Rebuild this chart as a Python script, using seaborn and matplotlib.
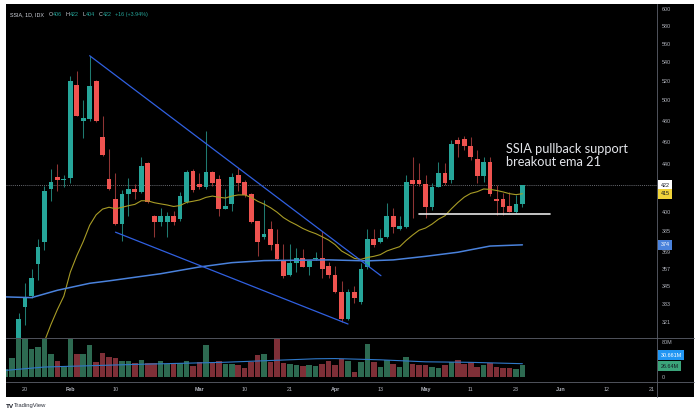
import numpy as np
import pandas as pd
import matplotlib
matplotlib.use("Agg")
import matplotlib.pyplot as plt
import seaborn as sns
from matplotlib.transforms import blended_transform_factory
from matplotlib.ticker import NullLocator
from matplotlib.lines import Line2D
from matplotlib.patches import Rectangle

# ---------------- data ----------------
opens = [283, 291, 305, 331, 338, 360.7, 377, 418.5, 428.6, 426.6,
         428, 515.5, 480, 482, 519.6, 464.3, 427, 410.5, 390.7, 414.3,
         418.8, 416.6, 440.8, 396.7, 392.2, 392.2, 396.7, 394.4, 408.2, 434.3,
         422.9, 420.2, 433, 427, 402.3, 406.7, 430.6, 424.4, 414.6, 392.7,
         380.2, 386.6, 374.9, 362.7, 352.6, 361, 364.6, 358.6, 363.9, 365.1,
         359.1, 352.6, 340.6, 322.7, 340.6, 334.3, 358.6, 378.9, 376.9, 380.2,
         396.7, 386.6, 388.2, 426.3, 426.3, 422.6, 404.3, 420.7, 432.6, 426.3,
         461.8, 462.4, 456.7, 444.3, 430.1, 441.7, 410.5, 410.5, 404.9, 400.1,
         406]
highs = [293, 306, 327, 347, 357, 379, 421, 436, 440, 430.6,
         525, 530, 500, 546.5, 521, 484.5, 454, 432.6, 418, 428,
         423, 446, 441.5, 397.5, 402.8, 400.1, 400.6, 416.6, 435, 435.7,
         432.6, 470, 434.3, 430.4, 418.8, 432.6, 436.4, 426.3, 415, 393,
         410, 392.7, 386.6, 375, 374.9, 372.5, 371.2, 363.5, 369.5, 385,
         362.2, 359.1, 348.6, 342.8, 344.8, 361, 386.6, 386.6, 386.6, 407.2,
         402.8, 396.7, 430.6, 446, 440.8, 430.6, 423.5, 441.7, 440.9, 461.8,
         464.3, 465.3, 465, 452.7, 446.1, 446, 421.7, 415.6, 416.6, 413.5,
         422]
lows = [280, 289, 300, 319, 337, 349, 371, 409, 417, 420.7,
        423.5, 484, 464, 480, 479, 447, 418, 390, 377.4, 397,
        410.5, 415, 407, 380.6, 388.9, 380.6, 390, 393, 407, 416,
        419, 419, 421, 397, 402, 401, 417, 412, 390.9, 366.5,
        379, 370.7, 363.5, 350.7, 352, 354.7, 358, 352.6, 363.5, 350.7,
        350.2, 340, 321, 322, 333.2, 333, 357, 373.1, 376, 380,
        383.6, 386, 387, 395, 421, 395, 401.5, 420, 421.7, 423.5,
        446.7, 452.7, 443.7, 423.5, 425, 413, 397.4, 397.4, 399.8, 399.5,
        404]
closes = [291, 305, 323, 336.6, 350.7, 373, 417, 424.4, 426.3, 427.5,
          520, 484.5, 482.3, 514.7, 480, 448, 418.5, 390.7, 414.6, 418.5,
          416.6, 438.7, 408.2, 392.2, 396.7, 396.7, 392.2, 412.9, 433, 417.9,
          420.2, 433, 423.5, 402.3, 404.9, 428.6, 423.5, 413.5, 392.2, 376.9,
          382.7, 374.4, 364.1, 352.1, 361, 364.6, 358.6, 362.7, 365.1, 356.9,
          352.6, 340.6, 322.7, 340.6, 336.6, 356.9, 378.9, 374.4, 379.5, 396.7,
          388.2, 388.9, 424.4, 422.6, 422.6, 404.3, 420.7, 432.6, 424.1, 458.1,
          458.1, 456.7, 446.1, 430.1, 441.7, 414.6, 408.8, 404.3, 400.1, 406,
          422]
volumes_m = [18, 43, 87, 87, 64, 70, 87, 53, 36, 24,
             87, 52, 54, 74, 35, 55, 45, 43, 36, 36,
             32, 40, 32, 32, 36, 30, 30, 33, 36, 25,
             35, 74, 33, 38, 30, 31, 28, 20, 35, 50,
             52, 35, 88, 32, 30, 28, 25, 28, 25, 30,
             36, 27, 42, 36, 12, 34, 76, 34, 24, 40,
             30, 22, 46, 30, 28, 28, 22, 20, 27, 35,
             40, 30, 34, 24, 28, 33, 22, 20, 20, 18,
             26.64]
ema21_prior = 270.0
ma_long_idx = [0, 4, 8, 13, 16, 20, 24, 30, 35, 40, 50, 56, 60, 65, 70, 75, 80]
ma_long_val = [337.5, 337, 342, 346.8, 348.5, 351, 353.5, 358.3, 361.4, 362.9,
               363.4, 362.7, 363.4, 366, 369, 373.6, 374.5]
vol_ma_idx = [0, 6, 13, 20, 27, 34, 41, 48, 51, 58, 65, 72, 80]
vol_ma_val = [15.3, 23, 26, 29, 31.5, 34, 38, 42, 42.5, 39.6, 35, 33.8, 30.661]
price_ticks = [600, 580, 560, 540, 520, 500, 480, 460, 440, 400, 385, 369, 357, 345, 333, 321]
date_tick_idx = [3, 10, 17, 30, 37, 44, 51, 58, 65, 72, 79, 86, 93, 100]
date_tick_labels = ["20", "Feb", "10", "Mar", "10", "21", "Apr", "13", "May", "11", "23", "Jun", "12", "21"]
upper_trend_idx, upper_trend_val = [13, 58.1], [546.5, 352.1]
lower_trend_idx, lower_trend_val = [17.0, 53.0], [384.1, 319.7]
support_idx, support_val = [64.0, 84.2], [398, 398]
note_lines = ["SSIA pullback support", "breakout ema 21"]
ticker = "SSIA, 1D, IDX"

# ---------------- derived ----------------
n = len(closes)
df = pd.DataFrame({"i": np.arange(n), "open": opens, "high": highs, "low": lows,
                   "close": closes, "vol": volumes_m})
alpha = 2 / 22
ema, prev = [], ema21_prior
for c in closes:
    prev = prev + alpha * (c - prev)
    ema.append(prev)
df["ema21"] = ema
up = df.close >= df.open

GREEN, RED = "#26a69a", "#ef5350"
GREEN_W, RED_W = "#1f7a70", "#8f3434"
GREEN_V, RED_V = "#2d6a51", "#7e2f37"
AXC = "#b2b5be"
SEP = "#5d606b"

sns.set_style("dark")
plt.rcParams["font.family"] = ["Liberation Sans", "DejaVu Sans"]

W, H = 700, 416
fx = lambda px: px / W
fy = lambda py: 1 - py / H

fig = plt.figure(figsize=(7.0, 4.16), dpi=100, facecolor="white")
fig.add_artist(Rectangle((fx(5.5), fy(397)), fx(694 - 5.5), (397 - 4) / H,
                         transform=fig.transFigure, facecolor="black", edgecolor="none", zorder=0))

ax = fig.add_axes([fx(5.5), fy(337.5), fx(657 - 5.5), (337.5 - 4) / H])
axv = fig.add_axes([fx(5.5), fy(381.7), fx(657 - 5.5), (381.7 - 337.5) / H], sharex=ax)
for a in (ax, axv):
    a.set_facecolor("black")
    for s in a.spines.values():
        s.set_visible(False)
    a.grid(False)

# candles
ax.vlines(df.i, df.low, df.high, colors=np.where(up, GREEN_W, RED_W), lw=0.75, zorder=2)
body_lo = np.minimum(df.open, df.close)
body_h = np.maximum(np.abs(df.close - df.open), 0.8)
ax.bar(df.i, body_h, bottom=body_lo, width=0.74, color=np.where(up, GREEN, RED), lw=0, zorder=3)

# moving averages
sns.lineplot(x=df.i, y=df.ema21, ax=ax, color="#a89c26", lw=0.8, zorder=4)
sns.lineplot(x=ma_long_idx, y=ma_long_val, ax=ax, color="#4a82dc", lw=1.1, zorder=4)
# drawings
ax.plot(upper_trend_idx, upper_trend_val, color="#3060e0", lw=0.9, zorder=5)
ax.plot(lower_trend_idx, lower_trend_val, color="#3060e0", lw=0.9, zorder=5)
ax.plot(support_idx, support_val, color="#e6e6e6", lw=1.2, zorder=5)
ax.axhline(closes[-1], color="#8a8d96", lw=0.5, ls=(0, (1.5, 1.5)), zorder=1)

ax.set_yscale("log")
ax.set_ylim(311.2, 606.0)
ax.set_xlim(-0.03, 100.84)
ax.yaxis.tick_right()
ax.set_yticks(price_ticks)
ax.set_yticklabels([str(t) for t in price_ticks])
ax.yaxis.set_minor_locator(NullLocator())
ax.tick_params(axis="y", length=0, pad=3.2, labelsize=3.9, labelcolor=AXC)
ax.tick_params(axis="x", length=0, labelbottom=False)
ax.set_xlabel(""); ax.set_ylabel("")

for i_, line in enumerate(note_lines):
    ax.text(77.4, [449.8, 438.7][i_], line, color="#e3e5ea", fontsize=9.2,
            family=["Lato", "DejaVu Sans"], va="baseline", ha="left", zorder=6)

# price tags
tr = blended_transform_factory(ax.transAxes, ax.transData)
def tag(axis, trans, val, text, fc, tc, dy=0):
    axis.annotate(text, xy=(1, val), xycoords=trans, xytext=(2.6, dy), textcoords="offset points",
                  ha="left", va="center", fontsize=3.9, color=tc, annotation_clip=False,
                  bbox=dict(boxstyle="square,pad=0.45", fc=fc, ec="none"), zorder=10)
tag(ax, tr, closes[-1], f"{closes[-1]:.0f}", "#ffffff", "#131722")
tag(ax, tr, ema[-1], f"{ema[-1]:.0f}", "#f0d43a", "#131722")
tag(ax, tr, ma_long_val[-1], f"{ma_long_val[-1]:.0f}", "#4a82dc", "#ffffff")

# volume
axv.bar(df.i, df.vol, width=0.86, color=np.where(up, GREEN_V, RED_V), lw=0, zorder=2)
sns.lineplot(x=vol_ma_idx, y=vol_ma_val, ax=axv, color="#2f78c8", lw=0.8, zorder=3)
axv.set_ylim(-10.8, 91.0)
axv.yaxis.tick_right()
axv.set_yticks([0, 80])
axv.set_yticklabels(["0", "80M"])
axv.tick_params(axis="y", length=0, pad=3.2, labelsize=3.9, labelcolor=AXC)
axv.set_xticks(date_tick_idx)
axv.set_xticklabels(date_tick_labels)
axv.tick_params(axis="x", length=0, pad=4.0, labelsize=3.9, labelcolor=AXC)
for lab in axv.get_xticklabels():
    if lab.get_text().isalpha():
        lab.set_fontweight("bold")
axv.set_xlabel(""); axv.set_ylabel("")
trv = blended_transform_factory(axv.transAxes, axv.transData)
tag(axv, trv, vol_ma_val[-1], f"{vol_ma_val[-1]:.3f}M", "#2196f3", "#ffffff", dy=6.0)
tag(axv, trv, volumes_m[-1], f"{volumes_m[-1]:.2f}M", "#3ba47a", "#131722", dy=-0.5)

# separators
for yy in (337.5, 381.7):
    fig.add_artist(Line2D([fx(5.5), fx(694)], [fy(yy), fy(yy)], transform=fig.transFigure, color=SEP, lw=0.6))
fig.add_artist(Line2D([fx(657), fx(657)], [fy(4), fy(397)], transform=fig.transFigure, color=SEP, lw=0.6))

# header
chg = closes[-1] - closes[-2]
pct = chg / closes[-2] * 100
pieces = [(ticker, "#d1d4dc", 0), ("O", "#d1d4dc", 3.0), (f"{opens[-1]:.0f}", GREEN, 0.2),
          ("H", "#d1d4dc", 2.5), (f"{highs[-1]:.0f}", GREEN, 0.2),
          ("L", "#d1d4dc", 2.5), (f"{lows[-1]:.0f}", GREEN, 0.2),
          ("C", "#d1d4dc", 2.5), (f"{closes[-1]:.0f}", GREEN, 0.2),
          (f"+{chg:.0f} (+{pct:.2f}%)", GREEN, 2.5)]
prev_t = fig.text(fx(10.5), fy(16.3), pieces[0][0], color=pieces[0][1], fontsize=3.9, va="baseline")
for s, c, g in pieces[1:]:
    prev_t = ax.annotate(s, xy=(1, 0), xycoords=prev_t, xytext=(g, 0),
                         textcoords="offset points", va="bottom",
                         fontsize=3.9, color=c, annotation_clip=False)

# branding
fig.text(fx(5.5), fy(407.5), "TV", fontsize=4.6, fontweight="bold", color="#131722", va="baseline")
fig.text(fx(13.5), fy(407.5), "TradingView", fontsize=4.2, color="#2a2e39", va="baseline")

fig.savefig("out.png", dpi=100, facecolor="white")
